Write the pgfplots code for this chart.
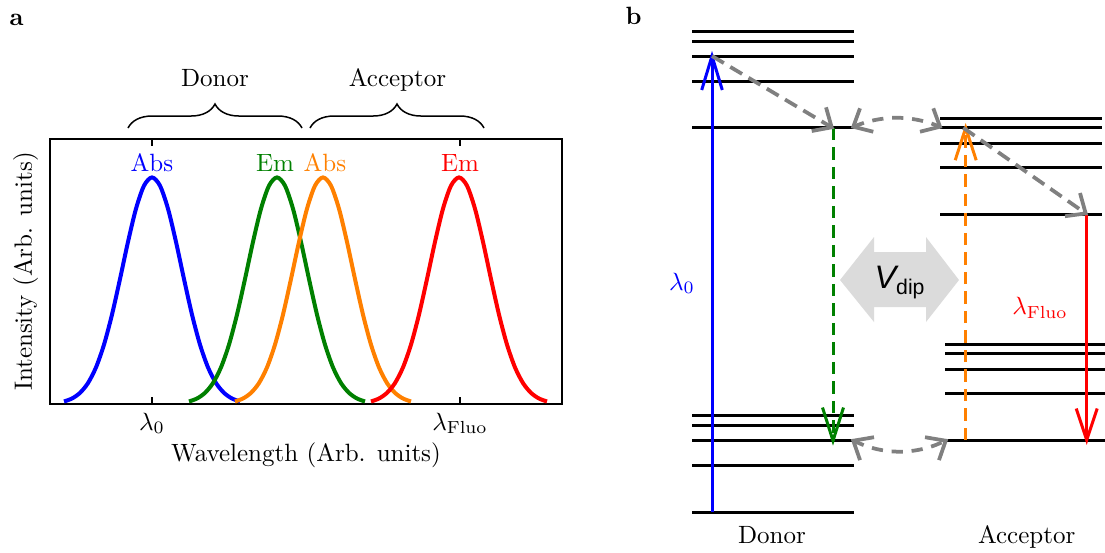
\documentclass[border=0pt]{standalone}
\usepackage{fontspec}
\usepackage{pgfplots}
\pgfplotsset{compat=1.18}
\usetikzlibrary{decorations.pathreplacing}
\newfontfamily\arialf{Liberation Sans}
\definecolor{cblue}{rgb}{0,0,1}
\definecolor{cgreen}{rgb}{0,0.5,0}
\definecolor{corange}{rgb}{1,0.5,0}
\definecolor{cred}{rgb}{1,0,0}
\definecolor{cgray}{rgb}{0.5,0.5,0.5}
\definecolor{cfill}{rgb}{0.86,0.86,0.86}
\begin{document}
\begin{tikzpicture}
\useasboundingbox (0,0) rectangle (442pt,220.8pt);
% ---------- background axis in pixel units (panel b and annotations)
\begin{axis}[at={(0pt,0pt)}, anchor=south west, scale only axis,
  width=442pt, height=220.8pt, xmin=0, xmax=1105, ymin=0, ymax=552,
  y dir=reverse, hide axis, clip=false]
% panel letters
\node[anchor=base] at (axis cs:16.5,25) {\bfseries a};
\node[anchor=base] at (axis cs:633.7,24) {\bfseries b};
% braces and group labels of panel a
\draw[decorate, decoration={brace, amplitude=9.6pt}, line width=0.6pt]
  (axis cs:128,128) -- (axis cs:302,128);
\draw[decorate, decoration={brace, amplitude=9.6pt}, line width=0.6pt]
  (axis cs:310,128) -- (axis cs:484,128);
\node[anchor=base] at (axis cs:215,86) {Donor};
\node[anchor=base] at (axis cs:397.5,86) {Acceptor};
% axis titles of panel a
\node[anchor=base] at (axis cs:306,461) {Wavelength (Arb. units)};
\node[anchor=base, rotate=90] at (axis cs:32,271.5) {Intensity (Arb. units)};
% V_dip double arrow
\addplot[fill=cfill, draw=none] coordinates {(840,280) (874,237) (874,252) (926,252) (926,237) (959,280) (926,322) (926,307) (874,307) (874,322) (840,280)};
\node[anchor=base west, inner sep=0pt] at (axis cs:874,288)
  {\arialf\fontsize{13}{15}\selectfont\itshape V\upshape\fontsize{8.5}{10}\selectfont\raisebox{-2.4pt}{dip}};
% donor levels
\addplot[black, line width=1.2pt] coordinates {(692,31.7) (854,31.7)};
\addplot[black, line width=1.2pt] coordinates {(692,41.7) (854,41.7)};
\addplot[black, line width=1.2pt] coordinates {(692,56) (854,56)};
\addplot[black, line width=1.2pt] coordinates {(692,81) (854,81)};
\addplot[black, line width=1.2pt] coordinates {(692,127.8) (854,127.8)};
\addplot[black, line width=1.2pt] coordinates {(692,415.7) (854,415.7)};
\addplot[black, line width=1.2pt] coordinates {(692,425.7) (854,425.7)};
\addplot[black, line width=1.2pt] coordinates {(692,440.7) (854,440.7)};
\addplot[black, line width=1.2pt] coordinates {(692,465.3) (854,465.3)};
\addplot[black, line width=1.2pt] coordinates {(692,512) (854,512)};
% acceptor levels
\addplot[black, line width=1.2pt] coordinates {(940,118.3) (1102,118.3)};
\addplot[black, line width=1.2pt] coordinates {(940,127.8) (1102,127.8)};
\addplot[black, line width=1.2pt] coordinates {(940,143) (1102,143)};
\addplot[black, line width=1.2pt] coordinates {(940,167.6) (1102,167.6)};
\addplot[black, line width=1.2pt] coordinates {(940,214) (1102,214)};
\addplot[black, line width=1.2pt] coordinates {(945,344.4) (1105,344.4)};
\addplot[black, line width=1.2pt] coordinates {(945,353.9) (1105,353.9)};
\addplot[black, line width=1.2pt] coordinates {(945,369) (1105,369)};
\addplot[black, line width=1.2pt] coordinates {(945,393.7) (1105,393.7)};
\addplot[black, line width=1.2pt] coordinates {(945,440.1) (1105,440.1)};
% blue excitation
\addplot[cblue, line width=1.2pt] coordinates {(712,512) (712,56)};
\addplot[cblue, line width=1.2pt] coordinates {(701.7,90) (712,56) (722.3,90)};
% green donor emission
\addplot[cgreen, line width=1.2pt, dash pattern=on 5pt off 2.8pt] coordinates {(833,127.8) (833,440.7)};
\addplot[cgreen, line width=1.2pt] coordinates {(822.5,407.5) (833,440.7) (843.5,407.5)};
% orange acceptor absorption
\addplot[corange, line width=1.2pt, dash pattern=on 5pt off 2.8pt] coordinates {(965.7,440.1) (965.7,127.8)};
\addplot[corange, line width=1.2pt] coordinates {(955.2,160.2) (965.7,127.8) (976.2,160.2)};
% red fluorescence
\addplot[cred, line width=1.2pt] coordinates {(1086.7,214) (1086.7,440.1)};
\addplot[cred, line width=1.2pt] coordinates {(1076.2,408.5) (1086.7,440.1) (1097.2,408.5)};
% gray relaxation arrows
\addplot[cgray, line width=1.5pt, dash pattern=on 5.5pt off 3pt] coordinates {(712,56) (831.7,127.3)};
\addplot[cgray, line width=1.5pt] coordinates {(826,107.3) (831.7,127.3) (811.7,131)};
\addplot[cgray, line width=1.5pt, dash pattern=on 5.5pt off 3pt] coordinates {(963.3,127.8) (1085.7,213.4)};
\addplot[cgray, line width=1.5pt] coordinates {(1080,193) (1085.7,213.4) (1065,216.2)};
% gray curved double arrows (energy transfer)
\addplot[cgray, line width=1.5pt, smooth, dash pattern=on 4.5pt off 3.5pt] coordinates {(853.3,126.7) (864,122.8) (875,120) (886,118.3) (896.7,117.7) (907.4,118.3) (918.4,120) (929.4,122.8) (940,126.7)};
\addplot[cgray, line width=1.5pt] coordinates {(860,108.3) (853.3,126.7) (873.3,131.7)};
\addplot[cgray, line width=1.5pt] coordinates {(933.3,108.3) (940,126.7) (920,131.7)};
\addplot[cgray, line width=1.5pt, smooth, dash pattern=on 4.5pt off 3.5pt] coordinates {(853.3,440.7) (865,445.6) (876.4,449) (888,451) (899.5,451.7) (911,451) (922.6,449) (934,445.6) (945.7,440.7)};
\addplot[cgray, line width=1.5pt] coordinates {(874,437.2) (853.3,440.7) (860,460.1)};
\addplot[cgray, line width=1.5pt] coordinates {(925,437.2) (945.7,440.7) (939,460.1)};
% labels of panel b
\node[anchor=base, text=cblue] at (axis cs:682,290) {$\lambda_0$};
\node[anchor=base, text=cred] at (axis cs:1040,314.5) {$\lambda_{\mathrm{Fluo}}$};
\node[anchor=base] at (axis cs:772,543) {Donor};
\node[anchor=base] at (axis cs:1026.7,543) {Acceptor};
\end{axis}
% ---------- panel a: spectra
\begin{axis}[at={(20pt,59.2pt)}, anchor=south west, scale only axis,
  width=204.8pt, height=106pt, xmin=50, xmax=562, ymin=0, ymax=1,
  xtick={152,460}, xticklabels={$\lambda_0$,$\lambda_{\mathrm{Fluo}}$},
  ytick=\empty, tick align=inside, major tick length=2.8pt,
  axis line style={line width=0.8pt}, tick style={line width=0.8pt, black},
  clip=false]
\addplot[cblue, line width=1.6pt, smooth] coordinates {(64,0.0095) (72,0.0208) (80,0.0421) (88,0.0791) (96,0.1382) (104,0.2242) (112,0.3375) (120,0.4716) (128,0.6118) (136,0.7368) (144,0.8238) (152,0.855) (160,0.8238) (168,0.7368) (176,0.6118) (184,0.4716) (192,0.3375) (200,0.2242) (208,0.1382) (216,0.0791) (224,0.0421) (232,0.0208) (240,0.0095)};
\addplot[cgreen, line width=1.6pt, smooth] coordinates {(189,0.0095) (197,0.0208) (205,0.0421) (213,0.0791) (221,0.1382) (229,0.2242) (237,0.3375) (245,0.4716) (253,0.6118) (261,0.7368) (269,0.8238) (277,0.855) (285,0.8238) (293,0.7368) (301,0.6118) (309,0.4716) (317,0.3375) (325,0.2242) (333,0.1382) (341,0.0791) (349,0.0421) (357,0.0208) (365,0.0095)};
\addplot[corange, line width=1.6pt, smooth] coordinates {(235,0.0095) (243,0.0208) (251,0.0421) (259,0.0791) (267,0.1382) (275,0.2242) (283,0.3375) (291,0.4716) (299,0.6118) (307,0.7368) (315,0.8238) (323,0.855) (331,0.8238) (339,0.7368) (347,0.6118) (355,0.4716) (363,0.3375) (371,0.2242) (379,0.1382) (387,0.0791) (395,0.0421) (403,0.0208) (411,0.0095)};
\addplot[cred, line width=1.6pt, smooth] coordinates {(371,0.0095) (379,0.0208) (387,0.0421) (395,0.0791) (403,0.1382) (411,0.2242) (419,0.3375) (427,0.4716) (435,0.6118) (443,0.7368) (451,0.8238) (459,0.855) (467,0.8238) (475,0.7368) (483,0.6118) (491,0.4716) (499,0.3375) (507,0.2242) (515,0.1382) (523,0.0791) (531,0.0421) (539,0.0208) (547,0.0095)};
\node[anchor=base, text=cblue] at (axis cs:152,0.879) {Abs};
\node[anchor=base, text=cgreen] at (axis cs:275,0.879) {Em};
\node[anchor=base, text=corange] at (axis cs:325,0.879) {Abs};
\node[anchor=base, text=cred] at (axis cs:460,0.879) {Em};
\end{axis}
\end{tikzpicture}
\end{document}
